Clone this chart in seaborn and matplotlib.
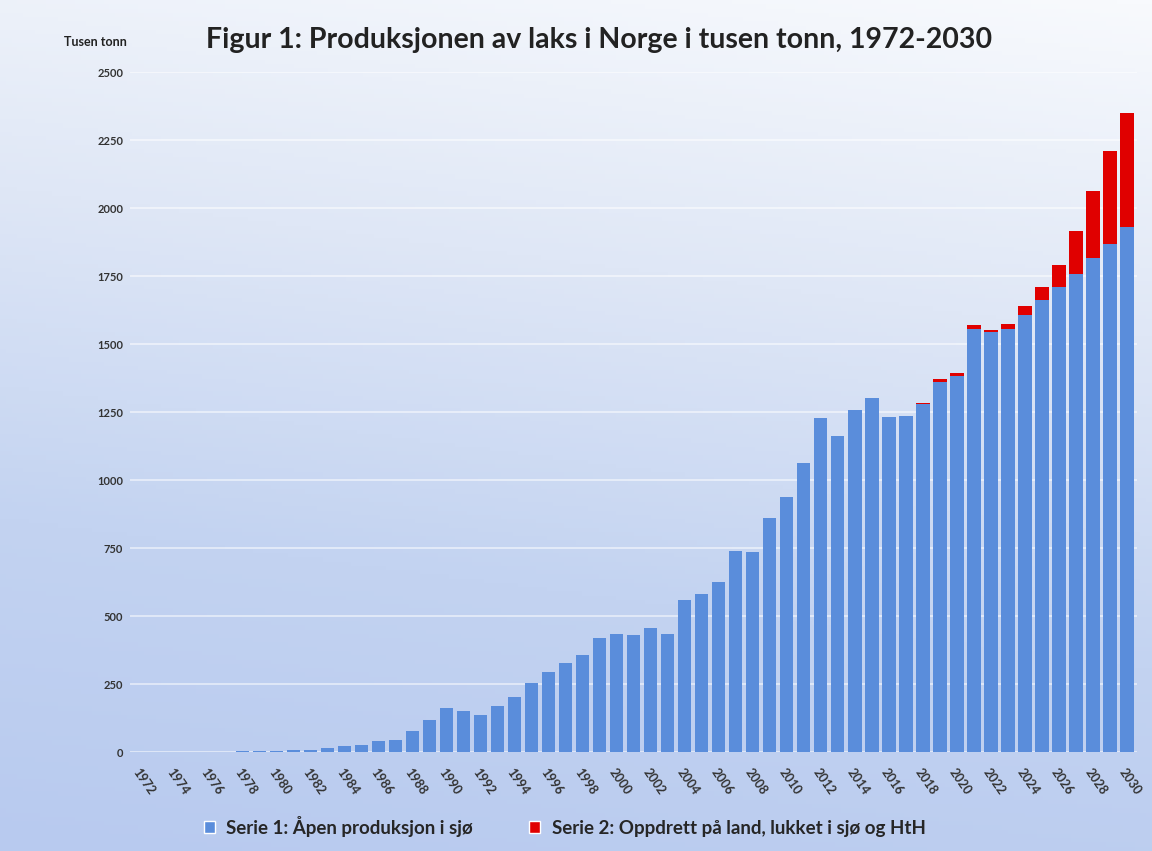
import numpy as np
import pandas as pd
import seaborn as sns
import matplotlib.pyplot as plt
from matplotlib.colors import LinearSegmentedColormap
from matplotlib.patches import Patch

# Data (tusen tonn)
years = list(range(1972, 2031))
serie1 = [
    0.1, 0.2, 0.5, 1, 1.5, 2.5, 4, 4.5, 5, 8,            # 1972-1981
    10, 16, 22, 27, 42, 44, 78, 118, 163, 153,           # 1982-1991
    136, 170, 203, 256, 294, 328, 356, 421, 434, 432,    # 1992-2001
    458, 435, 561, 583, 627, 740, 735, 860, 937, 1062,   # 2002-2011
    1230, 1164, 1257, 1304, 1232, 1235, 1280, 1361, 1383, 1557,  # 2012-2021
    1545, 1557, 1606, 1662, 1711, 1759, 1819, 1870, 1931,        # 2022-2030
]
serie2 = [0] * 46 + [6, 13, 13, 13, 6, 19, 35, 49, 82, 157, 243, 339, 419]

label1 = "Serie 1: Åpen produksjon i sjø"
label2 = "Serie 2: Oppdrett på land, lukket i sjø og HtH"
blue = "#5a8ddb"
red = "#e00000"

df = pd.DataFrame({"year": [str(y) for y in years], "serie1": serie1, "serie2": serie2})
df["total"] = df["serie1"] + df["serie2"]

sns.set_style("white")
plt.rcParams["font.family"] = ["Lato", "DejaVu Sans"]

fig = plt.figure(figsize=(11.52, 8.51), dpi=100)

# background gradient (white at top right -> light blue at bottom left)
bg = fig.add_axes([0, 0, 1, 1], zorder=-10)
gx, gy = np.meshgrid(np.linspace(0, 1, 200), np.linspace(0, 1, 200))
grad = 0.85 * gy + 0.15 * (1 - gx)
cmap = LinearSegmentedColormap.from_list("bg", ["#f8fafd", "#dfe7f6", "#c3d3f1", "#b8caef"])
bg.imshow(grad, cmap=cmap, aspect="auto", extent=[0, 1, 0, 1])
bg.axis("off")

ax = fig.add_axes([0.113, 0.116, 0.874, 0.799])
ax.set_facecolor("none")

# stacked bars: total in red underneath, serie 1 in blue on top
sns.barplot(data=df, x="year", y="total", color=red, saturation=1, width=0.8,
            linewidth=0, ax=ax)
sns.barplot(data=df, x="year", y="serie1", color=blue, saturation=1, width=0.8,
            linewidth=0, ax=ax)

ax.set_ylim(0, 2500)
ax.set_xlim(-0.6, len(years) - 0.4)
ax.set_yticks(range(0, 2501, 250))
ax.set_yticklabels([str(v) for v in range(0, 2501, 250)], fontsize=8,
                   fontweight="bold", color="#333333")
ax.yaxis.grid(True, color="white", linewidth=1.2, alpha=0.6)
ax.set_axisbelow(True)
ax.tick_params(axis="y", length=0, pad=5)

xt = list(range(0, len(years), 2))
ax.set_xticks(xt)
ax.set_xticklabels([str(years[i]) for i in xt], rotation=-55, ha="left", va="top",
                   rotation_mode="anchor", fontsize=9, fontweight="bold", color="#333333")
ax.tick_params(axis="x", length=0, pad=10)
ax.set_xlabel("")
ax.set_ylabel("")
sns.despine(ax=ax, left=True, bottom=True)

fig.text(0.083, 0.946, "Tusen tonn", fontsize=9, fontweight="bold", color="#222222", ha="center")
fig.text(0.52, 0.953, "Figur 1: Produksjonen av laks i Norge i tusen tonn, 1972-2030",
         fontsize=20.5, fontweight="bold", color="#222222", ha="center", va="center")

handles = [Patch(facecolor=blue, label=label1), Patch(facecolor=red, label=label2)]
fig.legend(handles=handles, loc="center", bbox_to_anchor=(0.49, 0.029), ncol=2,
           frameon=False, handlelength=0.6, handleheight=0.6, handletextpad=0.6,
           columnspacing=3, prop={"weight": "bold", "size": 13.5})

fig.savefig("out.png", dpi=100)
